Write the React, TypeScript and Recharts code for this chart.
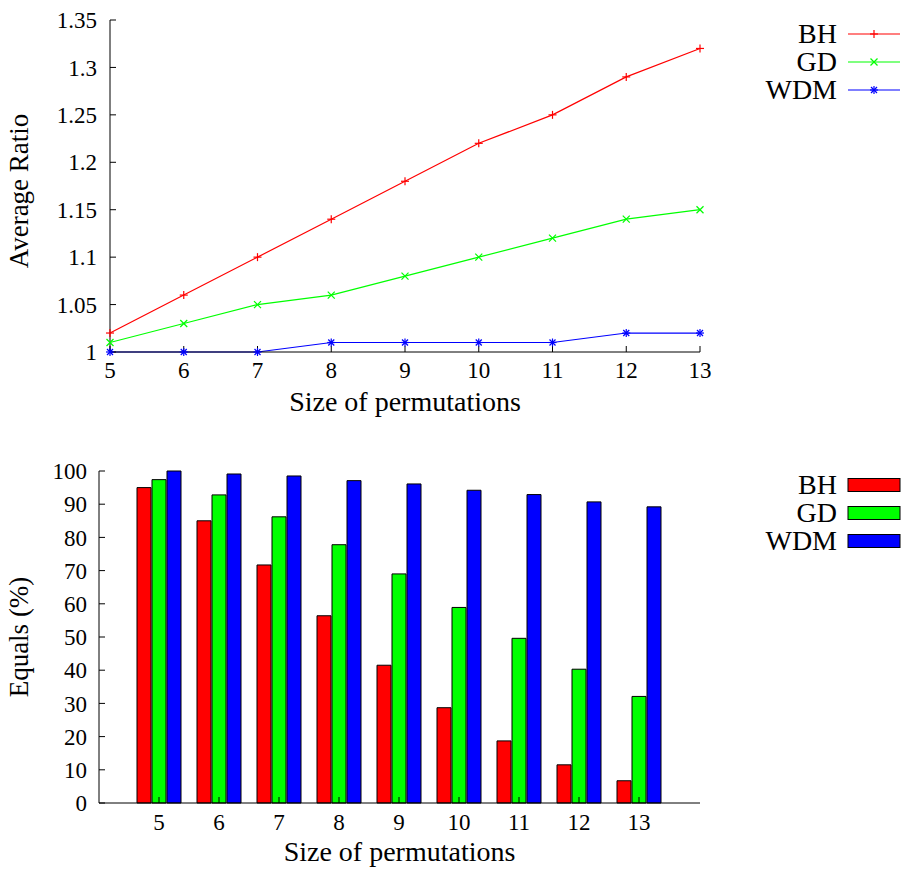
import React from 'react';
import { LineChart, Line, BarChart, Bar, XAxis, YAxis, Legend, Label } from 'recharts';

const sizes = [5, 6, 7, 8, 9, 10, 11, 12, 13];
const ratioBH = [1.02, 1.06, 1.1, 1.14, 1.18, 1.22, 1.25, 1.29, 1.32];
const ratioGD = [1.01, 1.03, 1.05, 1.06, 1.08, 1.1, 1.12, 1.14, 1.15];
const ratioWDM = [1.0, 1.0, 1.0, 1.01, 1.01, 1.01, 1.01, 1.02, 1.02];
const equalsBH = [95, 85, 71.7, 56.4, 41.5, 28.7, 18.7, 11.5, 6.7];
const equalsGD = [97.4, 92.8, 86.2, 77.8, 69, 58.9, 49.6, 40.3, 32.1];
const equalsWDM = [100, 99.1, 98.5, 97.1, 96.1, 94.2, 92.9, 90.7, 89.2];
const ratioTicks = [1, 1.05, 1.1, 1.15, 1.2, 1.25, 1.3, 1.35];
const equalsTicks = [0, 10, 20, 30, 40, 50, 60, 70, 80, 90, 100];
const seriesNames = ['BH', 'GD', 'WDM'];
const seriesColors = ['#ff0000', '#00ff00', '#0000ff'];
const xTitle = 'Size of permutations';
const ratioTitle = 'Average Ratio';
const equalsTitle = 'Equals (%)';

const FONT = "'Liberation Serif', 'DejaVu Serif', serif";

const lineData = sizes.map((s, i) => ({ size: s, BH: ratioBH[i], GD: ratioGD[i], WDM: ratioWDM[i] }));
const barData = sizes.map((s, i) => ({ size: s, BH: equalsBH[i], GD: equalsGD[i], WDM: equalsWDM[i] }));

function Marker({ cx, cy, kind, color }: { cx: number; cy: number; kind: number; color: string }) {
  const s = 4;
  const plus = (
    <>
      <line x1={cx - s} y1={cy} x2={cx + s} y2={cy} />
      <line x1={cx} y1={cy - s} x2={cx} y2={cy + s} />
    </>
  );
  const cross = (d: number) => (
    <>
      <line x1={cx - d} y1={cy - d} x2={cx + d} y2={cy + d} />
      <line x1={cx - d} y1={cy + d} x2={cx + d} y2={cy - d} />
    </>
  );
  return (
    <g stroke={color} strokeWidth={1.2} fill="none">
      {kind === 0 ? plus : kind === 1 ? cross(3.5) : (<>{plus}{cross(3)}</>)}
    </g>
  );
}

// legend svg origin: page x 720, row centres at y 34, 62, 90 relative to chart top (top chart) / 55, 83, 111 (bottom chart)
function LineLegend() {
  return (
    <svg width={182} height={120} style={{ display: 'block', overflow: 'visible' }}>
      {seriesNames.map((n, i) => (
        <g key={n}>
          <text x={117} y={24 + i * 28 + 9} textAnchor="end" style={{ fontFamily: FONT, fontSize: 28 }} fill="#000">{n}</text>
          <line x1={128} x2={180} y1={24 + i * 28} y2={24 + i * 28} stroke={seriesColors[i]} strokeWidth={1.2} />
          <Marker cx={154} cy={24 + i * 28} kind={i} color={seriesColors[i]} />
        </g>
      ))}
    </svg>
  );
}

function BarLegend() {
  return (
    <svg width={182} height={120} style={{ display: 'block', overflow: 'visible' }}>
      {seriesNames.map((n, i) => (
        <g key={n}>
          <text x={117} y={24 + i * 28 + 9} textAnchor="end" style={{ fontFamily: FONT, fontSize: 28 }} fill="#000">{n}</text>
          <rect x={128} y={24 + i * 28 - 6.5} width={52} height={13} fill={seriesColors[i]} stroke="#000" strokeWidth={1} />
        </g>
      ))}
    </svg>
  );
}

const tickStyle = { fill: '#000', fontSize: 23, fontFamily: FONT, style: { fontFamily: FONT } };

export default function App() {
  return (
    <div style={{ position: 'absolute', left: 0, top: 0, width: 902, height: 869, background: '#fff', fontFamily: FONT }}>
      <div style={{ position: 'absolute', left: 0, top: 0 }}>
        <LineChart width={902} height={430} data={lineData} margin={{ top: 20, right: 202, bottom: 0, left: 0 }} style={{ fontFamily: FONT }}>
          <XAxis
            dataKey="size"
            type="number"
            domain={[5, 13]}
            ticks={sizes}
            interval={0}
            height={78}
            stroke="#000"
            tickSize={-6}
            tickMargin={16}
            tick={tickStyle}
            label={
              <Label
                content={(p: any) => {
                  const vb = p.viewBox;
                  return (
                    <text x={vb.x + vb.width / 2} y={vb.y + 59} textAnchor="middle" style={{ fontFamily: FONT, fontSize: 28 }} fill="#000">
                      {xTitle}
                    </text>
                  );
                }}
              />
            }
          />
          <XAxis xAxisId="top" dataKey="size" type="number" domain={[5, 13]} ticks={sizes} interval={0} orientation="top" height={0} stroke="#000" tickSize={-6} tick={false} />
          <YAxis
            type="number"
            domain={[1, 1.35]}
            ticks={ratioTicks}
            interval={0}
            width={110}
            stroke="#000"
            tickSize={-6}
            tickMargin={19}
            tick={tickStyle}
            tickFormatter={(v: number) => String(Math.round(v * 100) / 100)}
            label={
              <Label
                content={() => (
                  <text x={28} y={191} transform="rotate(-90 28 191)" textAnchor="middle" style={{ fontFamily: FONT, fontSize: 27 }} fill="#000">
                    {ratioTitle}
                  </text>
                )}
              />
            }
          />
          <YAxis yAxisId="right" orientation="right" type="number" domain={[1, 1.35]} ticks={ratioTicks} interval={0} width={0} stroke="#000" tickSize={-6} tick={false} />
          {seriesNames.map((n, i) => (
            <Line
              key={n}
              dataKey={n}
              type="linear"
              stroke={seriesColors[i]}
              strokeWidth={1.2}
              isAnimationActive={false}
              dot={(p: any) => <Marker key={`${n}-${p.index}`} cx={p.cx} cy={p.cy} kind={i} color={seriesColors[i]} />}
              activeDot={false}
            />
          ))}
          <Legend
            layout="horizontal"
            verticalAlign="middle"
            align="center"
            wrapperStyle={{ left: 720, top: 10, width: 182, height: 120 }}
            content={() => <LineLegend />}
          />
        </LineChart>
      </div>
      <div style={{ position: 'absolute', left: 0, top: 430 }}>
        <BarChart
          width={902}
          height={439}
          data={barData}
          margin={{ top: 41, right: 202, bottom: 0, left: 0 }}
          barSize={14}
          barGap={1}
          style={{ fontFamily: FONT }}
        >
          <XAxis
            dataKey="size"
            padding={{ left: 30, right: 31 }}
            interval={0}
            height={66}
            stroke="#000"
            tickSize={-6}
            tickMargin={17}
            tick={tickStyle}
            label={
              <Label
                content={(p: any) => {
                  const vb = p.viewBox;
                  return (
                    <text x={vb.x + vb.width / 2} y={vb.y + 58} textAnchor="middle" style={{ fontFamily: FONT, fontSize: 28 }} fill="#000">
                      {xTitle}
                    </text>
                  );
                }}
              />
            }
          />
          <XAxis xAxisId="top" dataKey="size" padding={{ left: 30, right: 31 }} interval={0} orientation="top" height={0} stroke="#000" tickSize={-6} tick={false} />
          <YAxis
            type="number"
            domain={[0, 100]}
            ticks={equalsTicks}
            interval={0}
            width={99}
            stroke="#000"
            tickSize={-6}
            tickMargin={18}
            tick={tickStyle}
            label={
              <Label
                content={() => (
                  <text x={28} y={207} transform="rotate(-90 28 207)" textAnchor="middle" style={{ fontFamily: FONT, fontSize: 27 }} fill="#000">
                    {equalsTitle}
                  </text>
                )}
              />
            }
          />
          <YAxis yAxisId="right" orientation="right" type="number" domain={[0, 100]} ticks={equalsTicks} interval={0} width={0} stroke="#000" tickSize={-6} tick={false} />
          {seriesNames.map((n, i) => (
            <Bar key={n} dataKey={n} fill={seriesColors[i]} stroke="#000" strokeWidth={1} isAnimationActive={false} />
          ))}
          <Legend
            layout="horizontal"
            verticalAlign="middle"
            align="center"
            wrapperStyle={{ left: 720, top: 31, width: 182, height: 120 }}
            content={() => <BarLegend />}
          />
        </BarChart>
      </div>
    </div>
  );
}
